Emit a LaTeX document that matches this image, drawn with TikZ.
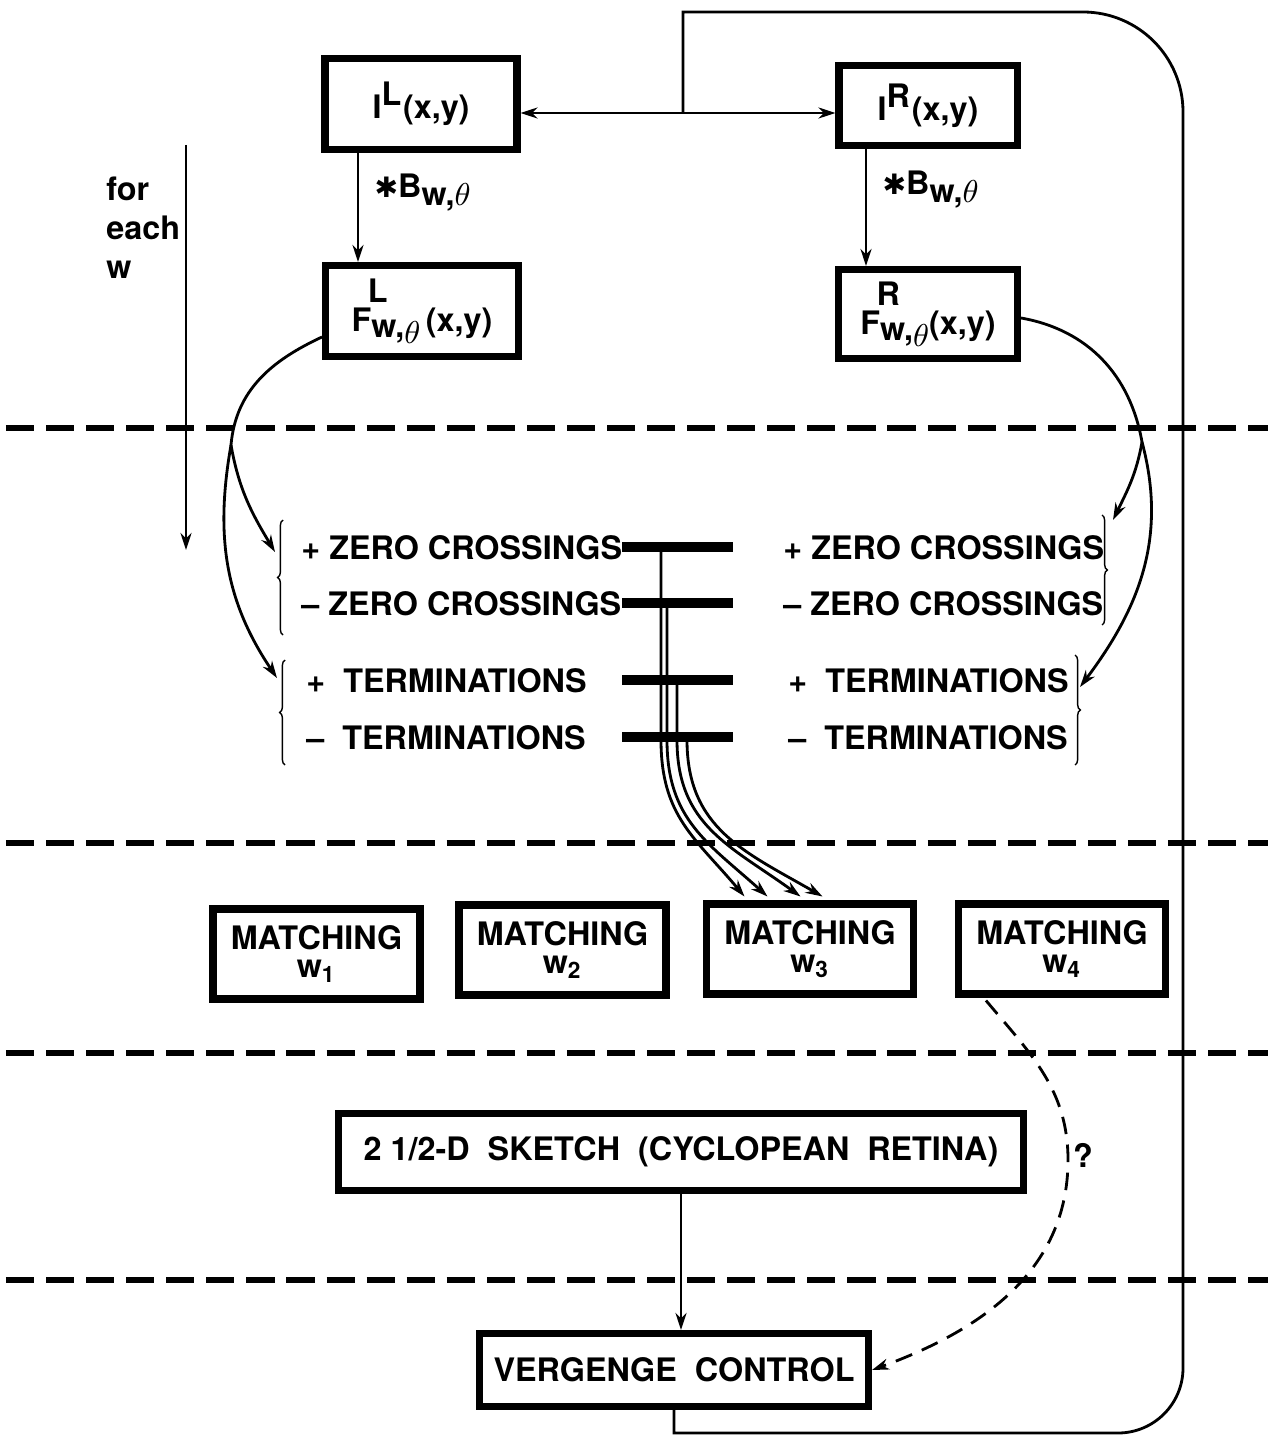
\documentclass[tikz,border=0pt]{standalone}
\usepackage{fontspec}
\setmainfont{TeX Gyre Heros}
\newfontfamily\symfont{DejaVu Sans}
\usetikzlibrary{arrows.meta,decorations.pathreplacing}
\newcommand{\lblfont}{\bfseries\fontsize{9.2}{11}\selectfont}
\newcommand{\conv}{{\symfont\footnotesize ✱}B\raisebox{-0.45ex}{w,$\theta$}}
\newcommand{\filt}[1]{F\rlap{\kern-1pt\raisebox{1.65ex}{#1}}\raisebox{-0.35ex}{w,}\raisebox{-0.7ex}{$\theta$}}
\tikzset{
    blk/.style={draw,line width=2pt,inner sep=0pt,align=center},
    sep/.style={line width=1.8pt,dash pattern=on 8pt off 3.4pt},
    bar/.style={line width=2.6pt},
    brc/.style={thin,decorate,decoration={brace,amplitude=1.5pt}},
    dsh/.style={thick,dash pattern=on 5pt off 3pt},
}
\begin{document}
\begin{tikzpicture}[>={Stealth[length=1.7mm,width=1.1mm]},thick,font=\lblfont]
    \useasboundingbox (0,0) rectangle (12.83,-14.35);
% Separators
    \foreach \y in {4.28,8.43,10.53,12.80}{
        \draw[sep] (0.06,-\y) -- (12.68,-\y);
    }
% Images and filtered images
    \node[blk,minimum width=1.92cm,minimum height=0.91cm] (il) at (4.21,-1.04) {I$^{\mbox{L}}$(x,y)};
    \node[blk,minimum width=1.78cm,minimum height=0.80cm] (ir) at (9.28,-1.055) {I$^{\mbox{R}}$(x,y)};
    \node[blk,minimum width=1.93cm,minimum height=0.91cm] (fl) at (4.22,-3.11) {\filt{L}\,(x,y)};
    \node[blk,minimum width=1.79cm,minimum height=0.89cm] (fr) at (9.28,-3.14) {\filt{R}(x,y)};
    \draw[->] ([xshift=-0.63cm]il.south) -- node[right=1pt,pos=0.36] {\conv} ([xshift=-0.64cm]fl.north);
    \draw[->] ([xshift=-0.62cm]ir.south) -- node[right=1pt,pos=0.35] {\conv} ([xshift=-0.62cm]fr.north);
% Loop
    \coordinate (jn) at (6.83,-1.13);
    \draw[<->] (il.east |- jn) -- (ir.west |- jn);
    \node[anchor=north west,align=left,inner sep=0pt] (fe) at (1.05,-1.76) {for\\each\\w};
    \coordinate (fe1) at (1.86,-1.45);
    \coordinate (fe2) at (1.86,-5.50);
    \draw[->] (fe1) -- (fe2);
% Descriptions
    \foreach \s/\x in {l/3.00,r/7.82}{
        \node[anchor=west,inner sep=0pt] (z\s1) at (\x,-5.48) {+ ZERO CROSSINGS};
        \node[anchor=west,inner sep=0pt] (z\s2) at (\x,-6.04) {\textendash\ ZERO CROSSINGS};
        \node[anchor=west,inner sep=0pt] (t\s1) at ([xshift=0.05cm]\x,-6.81) {+ \ TERMINATIONS};
        \node[anchor=west,inner sep=0pt] (t\s2) at ([xshift=0.05cm]\x,-7.38) {\textendash\ \ TERMINATIONS};
    }
    \draw[brc] (2.83,-6.35) -- (2.83,-5.20);
    \draw[brc] (2.85,-7.65) -- (2.85,-6.60);
    \draw[brc] (11.02,-5.15) -- (11.02,-6.25);
    \draw[brc] (10.75,-6.55) -- (10.75,-7.65);
    \coordinate (splL) at (2.31,-4.45);
    \coordinate (tipl1) at (2.75,-5.52);
    \coordinate (tipl2) at (2.77,-6.78);
    \draw ([yshift=-0.26cm]fl.west) to[out=205,in=85] (splL);
    \draw[->] (splL) to[out=-80,in=121] (tipl1);
    \draw[->] (splL) to[out=-100,in=124] (tipl2);
    \coordinate (splR) at (11.42,-4.42);
    \coordinate (tipr1) at (11.13,-5.20);
    \coordinate (tipr2) at (10.80,-6.87);
    \draw ([yshift=-0.04cm]fr.east) to[out=-10,in=100] (splR);
    \draw[->] (splR) to[out=-100,in=64] (tipr1);
    \draw[->] (splR) to[out=-75,in=53] (tipr2);
% Matching
    \foreach \i/\x/\y in {1/3.165/9.54,2/5.625/9.50,3/8.10/9.49,4/10.62/9.49}{
        \node[blk,minimum width=2.07cm,minimum height=0.90cm] (mw\i) at (\x,-\y) {MATCHING\\[-3pt]w\textsubscript{\i}};
    }
    \foreach \n/\x/\y/\d/\a in {1/6.61/5.47/0.415/130,2/6.67/6.03/0.645/138,3/6.77/6.80/0.975/144,4/6.87/7.37/1.195/150}{
        \draw[bar] (6.22,-\y) -- (7.33,-\y);
        \coordinate (s\n) at (\x,-\y);
        \draw[->] (s\n) -- (\x,-7.40) to[out=-90,in=\a,looseness=1.1] ([xshift=\d cm,yshift=0.04cm]mw3.north west);
    }
% Sketch and vergence
    \node[blk,minimum width=6.85cm,minimum height=0.77cm] (sk) at (6.81,-11.52) {2 1/2-D~~SKETCH~~(CYCLOPEAN~~RETINA)};
    \node[blk,minimum width=3.89cm,minimum height=0.73cm] (vc) at (6.74,-13.70) {VERGENGE~~CONTROL};
    \draw[->] (sk.south) -- (sk.south |- vc.north);
    \coordinate (qb) at (10.68,-11.60);
    \draw[dsh,->] ([xshift=0.31cm,yshift=-0.03cm]mw4.south west) to[out=-50,in=90] (qb) to[out=-90,in=20] (vc.east);
    \node[inner sep=0pt] (qm) at (10.83,-11.55) {?};
    \draw (vc.south) -- (vc.south |- 0,-14.33) -- (11.18,-14.33) arc[start angle=-90,end angle=0,radius=0.65]
        -- (11.83,-1.12) arc[start angle=0,end angle=90,radius=1.0] -- (6.83,-0.12) -- (jn);
\end{tikzpicture}
\end{document}
